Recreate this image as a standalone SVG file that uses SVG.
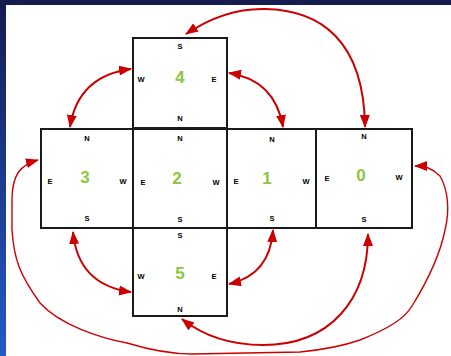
<svg xmlns="http://www.w3.org/2000/svg" width="451" height="356" viewBox="0 0 451 356">
<defs>
<linearGradient id="bg" x1="0" y1="0" x2="0" y2="1">
<stop offset="0" stop-color="#141c50"/>
<stop offset="1" stop-color="#2459c9"/>
</linearGradient>
<marker id="ah" markerUnits="userSpaceOnUse" markerWidth="14" markerHeight="11" refX="12" refY="5" orient="auto-start-reverse">
<path d="M0,0 L13,5 L0,10 z" fill="#cc0000"/>
</marker>
<style>
.box{fill:#fff;stroke:#1a1a1a;stroke-width:2}
.d{font-family:"Liberation Sans",Arial,sans-serif;font-weight:bold;font-size:7.5px;fill:#000;text-anchor:middle}
.n{font-family:"Liberation Sans",Arial,sans-serif;font-weight:bold;font-size:17px;fill:#8dc63f;text-anchor:middle}
.a{fill:none;stroke:#cc0000;stroke-width:2;marker-start:url(#ah);marker-end:url(#ah)}
.a2{fill:none;stroke:#cc0000;stroke-width:1.4;marker-start:url(#ah);marker-end:url(#ah)}
</style>
</defs>
<rect x="0" y="0" width="451" height="356" fill="url(#bg)"/>
<rect x="6" y="5" width="445" height="351" fill="#fff"/>

<g id="face4">
<rect class="box" x="133" y="38" width="94" height="90"/>
<text class="d" x="180" y="49">S</text>
<text class="d" x="141" y="82">W</text>
<text class="d" x="214" y="82">E</text>
<text class="d" x="180" y="121">N</text>
<text class="n" x="180" y="83">4</text>
</g>
<g id="face3">
<rect class="box" x="41" y="129" width="92" height="99"/>
<text class="d" x="87" y="141">N</text>
<text class="d" x="50" y="184">E</text>
<text class="d" x="123" y="184">W</text>
<text class="d" x="87" y="221">S</text>
<text class="n" x="85" y="183">3</text>
</g>
<g id="face2">
<rect class="box" x="133" y="129" width="94" height="99"/>
<text class="d" x="180" y="141">N</text>
<text class="d" x="143" y="185">E</text>
<text class="d" x="216" y="185">W</text>
<text class="d" x="180" y="222">S</text>
<text class="n" x="177" y="184">2</text>
</g>
<g id="face1">
<rect class="box" x="227" y="129" width="89" height="99"/>
<text class="d" x="272" y="142">N</text>
<text class="d" x="236" y="184">E</text>
<text class="d" x="306" y="184">W</text>
<text class="d" x="272" y="221">S</text>
<text class="n" x="267" y="184">1</text>
</g>
<g id="face0">
<rect class="box" x="316" y="129" width="96" height="99"/>
<text class="d" x="364" y="139">N</text>
<text class="d" x="327" y="181">E</text>
<text class="d" x="399" y="180">W</text>
<text class="d" x="364" y="222">S</text>
<text class="n" x="361" y="181">0</text>
</g>
<g id="face5">
<rect class="box" x="133" y="228" width="94" height="88"/>
<text class="d" x="180" y="238">S</text>
<text class="d" x="141" y="279">W</text>
<text class="d" x="214" y="279">E</text>
<text class="d" x="180" y="312">N</text>
<text class="n" x="180" y="279">5</text>
</g>

<g id="connectors">
<path class="a" d="M186 34 Q225 8 265 9 C320 10 364 40 365 127"/>
<path class="a" d="M70 127 Q78 76 131 69"/>
<path class="a" d="M229 73 Q275 80 283 127"/>
<path class="a" d="M73 232 Q78 285 131 292"/>
<path class="a" d="M229 284 Q270 275 273 230"/>
<path class="a" d="M182 319 Q215 345 263 345 C330 345 368 300 368 234"/>
<path class="a2" d="M38 160 C20 165 12 175 12 200 L12 230 C14 260 20 275 40 303 C60 325 100 338 127 343 C150 350 175 354 192 354 L300 352 C320 350 340 347 360 340 C390 328 405 318 412 306 C425 285 440 255 445 230 C450 210 448 190 440 176 C432 168 425 166 415 166"/>
</g>
</svg>
